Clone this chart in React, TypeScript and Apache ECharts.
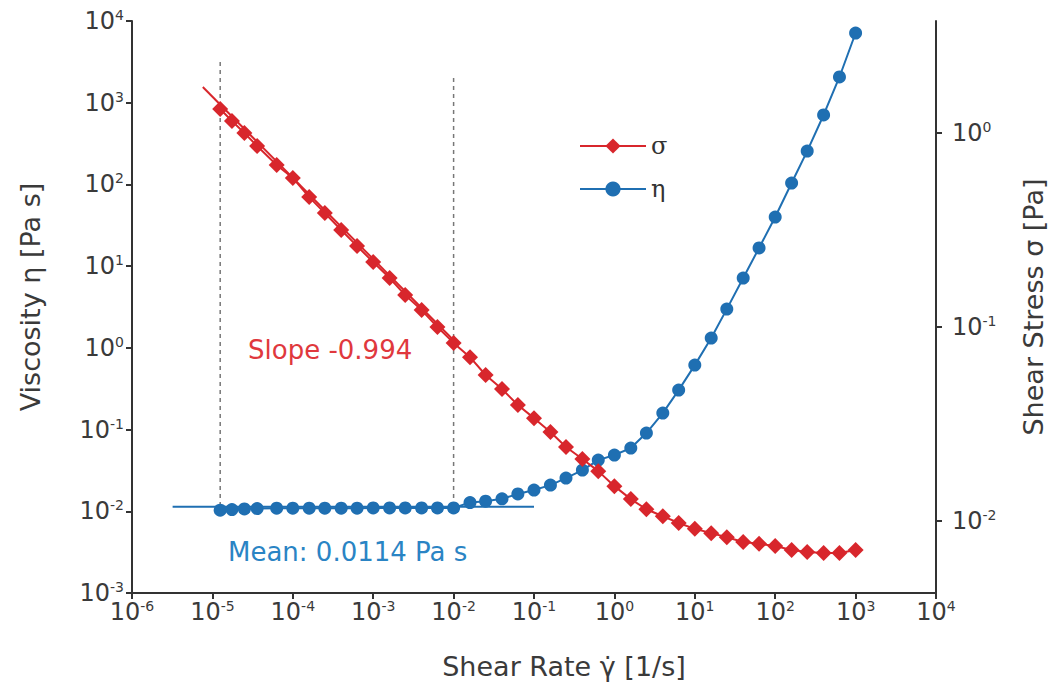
import React, { useEffect, useRef } from 'react';
import * as echarts from 'echarts';

// Shear rate (1/s) shared by both measured series
const shearRate = [
  1.25e-5, 1.75e-5, 2.5e-5, 3.6e-5,
  6.3e-5, 1e-4, 1.6e-4, 2.5e-4, 4e-4, 6.3e-4,
  1e-3, 1.6e-3, 2.5e-3, 4e-3, 6.3e-3,
  1e-2, 1.6e-2, 2.5e-2, 4e-2, 6.3e-2,
  0.1, 0.16, 0.25, 0.4, 0.63,
  1, 1.6, 2.5, 4, 6.3,
  10, 16, 25, 40, 63,
  100, 160, 250, 400, 630,
  1000,
];

// Red diamonds (σ), read against the left axis
const sigmaValues = [
  837, 597, 426, 295,
  173, 120, 70, 44.7, 27.7, 17.6,
  11.2, 7.15, 4.43, 2.9, 1.8,
  1.15, 0.77, 0.465, 0.313, 0.2,
  0.138, 0.0932, 0.0611, 0.0436, 0.031,
  0.0203, 0.0141, 0.0106, 0.0087, 0.0072,
  0.0061, 0.0054, 0.0048, 0.0042, 0.004,
  0.00375, 0.00335, 0.00317, 0.00308, 0.00308,
  0.00335,
];

// Blue circles (η)
const etaValues = [
  0.0103, 0.0105, 0.0107, 0.0108,
  0.0109, 0.0109, 0.0109, 0.0109, 0.0109, 0.0109,
  0.011, 0.011, 0.011, 0.011, 0.011,
  0.011, 0.0128, 0.0133, 0.0142, 0.0163,
  0.0182, 0.0209, 0.0255, 0.0319, 0.0423,
  0.0488, 0.0594, 0.0906, 0.159, 0.304,
  0.615, 1.32, 2.98, 7.15, 16.7,
  39.9, 104, 256, 708, 2065,
  7130,
];

// Power-law fit line (slope -0.994)
const fitX = [7.6e-6, 1e-2];
const fitY = [1556, 1.24];

// Mean viscosity line
const meanX = [3.2e-6, 0.1];
const meanValue = 0.0114;

// Dashed guide lines bounding the fit region
const guideX = [1.25e-5, 1e-2];
const guideTop = [3150, 2000];
const guideBottom = 0.0112;

// Axis ticks
const xTicks = [1e-6, 1e-5, 1e-4, 1e-3, 1e-2, 1e-1, 1, 10, 100, 1000, 10000];
const leftTicks = [1e-3, 1e-2, 1e-1, 1, 10, 100, 1000, 10000];
const rightMin = 0.00425;
const rightMax = 3.78;

const RED = '#d8262c';
const BLUE = '#1f6fb2';
const FONT = 'DejaVu Sans';
const TXT = '#3a3a3a';

export default function App() {
  const ref = useRef<HTMLDivElement>(null);

  useEffect(() => {
    const chart = echarts.init(ref.current as HTMLDivElement, null, { renderer: 'svg' });

    const rich = {
      b: { fontSize: 24, color: TXT, fontFamily: FONT },
      s: { fontSize: 14, color: TXT, fontFamily: FONT, padding: [0, 0, 12, 0] },
    };
    const fmt = (v: number) => {
      const e = Math.log10(v);
      const r = Math.round(e);
      if (Math.abs(e - r) > 1e-6) return '';
      return `{b|10}{s|${r}}`;
    };
    const axisLineStyle = { color: '#333', width: 2 };

    chart.setOption({
      animation: false,
      textStyle: { fontFamily: FONT },
      grid: { left: 132, right: 119, top: 21, bottom: 97, outerBoundsMode: 'none' },
      legend: {
        data: ['σ', 'η'],
        orient: 'vertical',
        left: 574,
        top: 129,
        itemWidth: 66,
        itemHeight: 19,
        itemGap: 19,
        textStyle: { fontFamily: 'DejaVu Serif', fontSize: 24, color: '#333' },
      },
      xAxis: {
        type: 'log',
        logBase: 10,
        min: 1e-6,
        max: 1e4,
        name: 'Shear Rate γ̇ [1/s]',
        nameLocation: 'middle',
        nameGap: 60,
        nameTextStyle: { fontSize: 27, color: TXT, padding: [0, 0, 0, 60] },
        axisLine: { show: true, onZero: false, lineStyle: axisLineStyle },
        axisTick: { show: true, length: 6, lineStyle: axisLineStyle, customValues: xTicks },
        axisLabel: { customValues: xTicks, formatter: fmt, rich, margin: 6 },
        splitLine: { show: false },
        minorTick: { show: false },
      },
      yAxis: [
        {
          type: 'log',
          logBase: 10,
          min: 1e-3,
          max: 1e4,
          position: 'left',
          name: 'Viscosity η [Pa s]',
          nameLocation: 'middle',
          nameGap: 88,
          nameTextStyle: { fontSize: 27, color: TXT, padding: [0, 0, 0, 20] },
          axisLine: { show: true, onZero: false, lineStyle: axisLineStyle },
          axisTick: { show: true, length: 6, lineStyle: axisLineStyle, customValues: leftTicks },
          axisLabel: { customValues: leftTicks, formatter: fmt, rich, margin: 8 },
          splitLine: { show: false },
          minorTick: { show: false },
        },
        {
          type: 'log',
          logBase: 10,
          min: rightMin,
          max: rightMax,
          position: 'right',
          name: 'Shear Stress σ [Pa]',
          nameLocation: 'middle',
          nameGap: 84,
          nameTextStyle: { fontSize: 27, color: TXT },
          axisLine: { show: true, onZero: false, lineStyle: axisLineStyle },
          axisTick: { show: true, length: 6, lineStyle: axisLineStyle },
          axisLabel: { formatter: fmt, rich, margin: 16, showMinLabel: false, showMaxLabel: false },
          splitLine: { show: false },
          minorTick: { show: false },
        },
      ],
      graphic: [
        {
          type: 'text',
          left: 248,
          top: 337,
          style: { text: 'Slope -0.994', fill: '#e0383d', font: `26px "${FONT}"` },
        },
        {
          type: 'text',
          left: 228,
          top: 539,
          style: { text: 'Mean: 0.0114 Pa s', fill: '#2a84c4', font: `26px "${FONT}"` },
        },
      ],
      series: [
        ...guideX.map((gx, i) => ({
          name: 'guide' + i,
          type: 'line',
          data: [
            [gx, guideTop[i]],
            [gx, guideBottom],
          ],
          symbol: 'none',
          silent: true,
          lineStyle: { color: '#777', width: 1.5, type: [4, 4] },
          z: 1,
        })),
        {
          name: 'mean',
          type: 'line',
          data: meanX.map((x) => [x, meanValue]),
          symbol: 'none',
          silent: true,
          lineStyle: { color: BLUE, width: 2 },
          z: 2,
        },
        {
          name: 'η',
          type: 'line',
          data: shearRate.map((x, i) => [x, etaValues[i]]),
          symbol: 'circle',
          symbolSize: 13,
          itemStyle: { color: BLUE },
          lineStyle: { color: BLUE, width: 2 },
          z: 3,
        },
        {
          name: 'fit',
          type: 'line',
          data: fitX.map((x, i) => [x, fitY[i]]),
          symbol: 'none',
          silent: true,
          lineStyle: { color: RED, width: 2 },
          z: 4,
        },
        {
          name: 'σ',
          type: 'line',
          data: shearRate.map((x, i) => [x, sigmaValues[i]]),
          symbol: 'diamond',
          symbolSize: 16,
          itemStyle: { color: RED },
          lineStyle: { color: RED, width: 2 },
          z: 5,
        },
      ],
    });

    return () => chart.dispose();
  }, []);

  return (
    <div
      ref={ref}
      style={{ position: 'fixed', left: 0, top: 0, width: 1055, height: 690, background: '#fff' }}
    />
  );
}
